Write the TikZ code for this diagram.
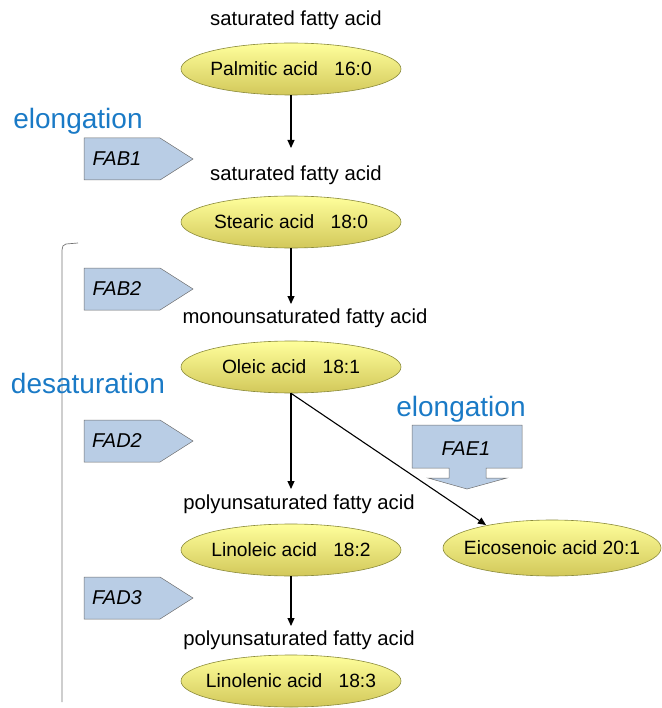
\documentclass[tikz,border=0pt]{standalone}
\usepackage{fontspec}
\setmainfont{Liberation Sans}
\usetikzlibrary{shapes.geometric,arrows.meta}
\definecolor{elbl}{HTML}{1A7AC6}
\definecolor{boxfill}{HTML}{B9CDE5}
\definecolor{boxline}{HTML}{6F6F6F}
\definecolor{ytop}{HTML}{FFFF9C}
\definecolor{ybot}{HTML}{D2C85A}
\definecolor{yline}{HTML}{8A8A3A}
\newcommand{\zw}[1]{\makebox[0pt]{#1}}
\tikzset{
  acid/.style={ellipse, draw=yline, line width=0.6pt, top color=ytop, bottom color=ybot,
    minimum width=220pt, minimum height=52pt, inner sep=0pt, font=\fontsize{19.2}{21}\selectfont},
  cls/.style={font=\fontsize{20.3}{22}\selectfont},
  proc/.style={text=elbl, font=\fontsize{28}{30}\selectfont},
  enz/.style={font=\fontsize{20}{22}\selectfont\itshape},
  pent/.style={fill=boxfill, draw=boxline, line width=0.5pt},
  flow/.style={line width=1.1pt, -{Triangle[length=8pt,width=7pt]}},
}
\begin{document}
\begin{tikzpicture}[x=1pt,y=-1pt]
\useasboundingbox (0,0) rectangle (661,708);
% bracket
\draw[gray!90!black, line width=0.7pt] (62,702) -- (62,250) to[out=90,in=180] (66,244) -- (78,243);
% class labels
\node[cls] (c1) at (296,20) {saturated fatty acid};
\node[cls] (c2) at (296,175) {saturated fatty acid};
\node[cls] (c3) at (305,318) {monounsaturated fatty acid};
\node[cls] (c4) at (299,504) {polyunsaturated fatty acid};
\node[cls] (c5) at (299,640) {polyunsaturated fatty acid};
% acids
\node[acid] (a1) at (291,69) {\zw{Palmitic acid\hspace{0.85em}16:0}};
\node[acid] (a2) at (291,222) {\zw{Stearic acid\hspace{0.85em}18:0}};
\node[acid] (a3) at (291,367) {\zw{Oleic acid\hspace{0.85em}18:1}};
\node[acid] (a4) at (291,550) {\zw{Linoleic acid\hspace{0.85em}18:2}};
\node[acid] (a5) at (291,681) {\zw{Linolenic acid\hspace{0.85em}18:3}};
\node[acid, minimum width=218pt, minimum height=56pt] (a6) at (552,548) {\zw{Eicosenoic acid 20:1}};
% arrow ends
\coordinate (e1) at (291,148);
\coordinate (e2) at (291,304);
\coordinate (e3) at (291,489);
\coordinate (e4) at (291,626);
\coordinate (e6) at (486,525);
\draw[flow] (a1.south) -- (e1);
\draw[flow] (a2.south) -- (e2);
\draw[flow] (a3.south) -- (e3);
\draw[flow] (a4.south) -- (e4);
\draw[flow] (a3.south) -- (e6);
% pentagons
\foreach \y/\t/\n in {159/FAB1/p1, 289/FAB2/p2, 441/FAD2/p3, 598/FAD3/p4}{
  \draw[pent] (84,\y-21) -- (160,\y-21) -- (193,\y) -- (160,\y+21) -- (84,\y+21) -- cycle;
  \node[enz] (\n) at (117,\y) {\t};
}
% FAE1 down arrow
\draw[pent] (412,425) -- (522,425) -- (522,468) -- (486,468) -- (486,478) -- (507,478)
  -- (467,489) -- (428,478) -- (449,478) -- (449,468) -- (412,468) -- cycle;
\node[enz] (p5) at (466,449) {FAE1};
% process labels
\node[proc] (l1) at (78,121) {elongation};
\node[proc] (l2) at (461,409) {elongation};
\node[proc] (l3) at (88,383) {desaturation};
\end{tikzpicture}
\end{document}
